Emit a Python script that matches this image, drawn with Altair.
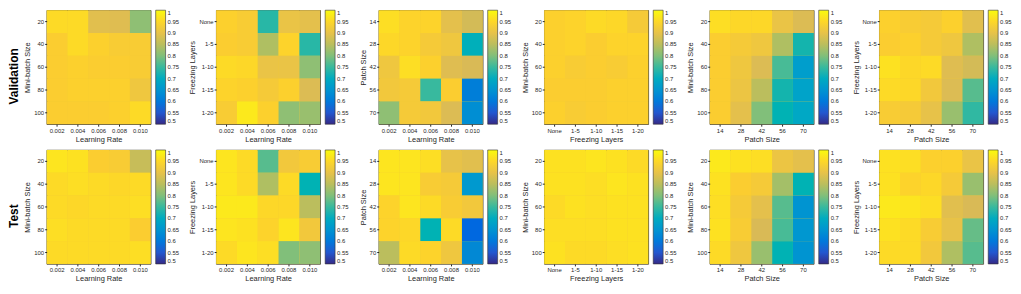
import altair as alt
import pandas as pd

# ---- categories ----
lr = ["0.002", "0.004", "0.006", "0.008", "0.010"]
mb = ["20", "40", "60", "80", "100"]
fl = ["None", "1-5", "1-10", "1-15", "1-20"]
ps = ["14", "28", "42", "56", "70"]

# ---- Validation values (rows = y categories top->bottom, cols = x categories) ----
val_mb_lr = [[0.955, 0.955, 0.89, 0.885, 0.81],
             [0.935, 0.955, 0.94, 0.93, 0.93],
             [0.935, 0.94, 0.935, 0.935, 0.93],
             [0.935, 0.94, 0.94, 0.94, 0.915],
             [0.935, 0.935, 0.935, 0.94, 0.955]]
val_fl_lr = [[0.94, 0.93, 0.74, 0.905, 0.895],
             [0.935, 0.93, 0.84, 0.945, 0.74],
             [0.955, 0.95, 0.905, 0.905, 0.81],
             [0.945, 0.94, 0.925, 0.94, 0.88],
             [0.93, 0.975, 0.94, 0.81, 0.82]]
val_ps_lr = [[0.96, 0.945, 0.945, 0.895, 0.87],
             [0.95, 0.945, 0.925, 0.915, 0.71],
             [0.915, 0.96, 0.94, 0.885, 0.875],
             [0.92, 0.925, 0.75, 0.935, 0.61],
             [0.81, 0.925, 0.92, 0.88, 0.64]]
val_mb_fl = [[0.94, 0.945, 0.955, 0.95, 0.925],
             [0.94, 0.945, 0.935, 0.945, 0.945],
             [0.94, 0.93, 0.935, 0.93, 0.94],
             [0.935, 0.935, 0.935, 0.94, 0.94],
             [0.94, 0.93, 0.935, 0.94, 0.94]]
val_mb_ps = [[0.96, 0.95, 0.95, 0.905, 0.88],
             [0.935, 0.925, 0.915, 0.84, 0.73],
             [0.935, 0.915, 0.88, 0.76, 0.67],
             [0.935, 0.91, 0.85, 0.73, 0.68],
             [0.935, 0.895, 0.80, 0.72, 0.69]]
val_fl_ps = [[0.94, 0.93, 0.925, 0.94, 0.89],
             [0.935, 0.94, 0.925, 0.915, 0.84],
             [0.965, 0.95, 0.955, 0.885, 0.87],
             [0.955, 0.95, 0.92, 0.88, 0.77],
             [0.93, 0.925, 0.90, 0.82, 0.745]]

# ---- Test values ----
tst_mb_lr = [[0.97, 0.965, 0.935, 0.93, 0.86],
             [0.955, 0.96, 0.955, 0.95, 0.955],
             [0.955, 0.95, 0.955, 0.955, 0.96],
             [0.96, 0.955, 0.955, 0.955, 0.935],
             [0.955, 0.955, 0.955, 0.955, 0.96]]
tst_fl_lr = [[0.97, 0.955, 0.77, 0.92, 0.93],
             [0.97, 0.955, 0.84, 0.955, 0.72],
             [0.975, 0.975, 0.95, 0.95, 0.85],
             [0.97, 0.965, 0.945, 0.97, 0.92],
             [0.955, 0.97, 0.96, 0.80, 0.81]]
tst_ps_lr = [[0.97, 0.97, 0.96, 0.90, 0.89],
             [0.97, 0.97, 0.93, 0.925, 0.66],
             [0.945, 0.97, 0.955, 0.93, 0.92],
             [0.945, 0.95, 0.72, 0.955, 0.57],
             [0.85, 0.955, 0.945, 0.915, 0.63]]
tst_mb_fl = [[0.965, 0.965, 0.97, 0.965, 0.955],
             [0.965, 0.965, 0.96, 0.97, 0.965],
             [0.955, 0.965, 0.96, 0.965, 0.965],
             [0.96, 0.96, 0.96, 0.965, 0.965],
             [0.965, 0.955, 0.955, 0.96, 0.965]]
tst_mb_ps = [[0.975, 0.965, 0.96, 0.91, 0.895],
             [0.965, 0.935, 0.925, 0.83, 0.72],
             [0.96, 0.925, 0.895, 0.77, 0.65],
             [0.965, 0.93, 0.875, 0.76, 0.655],
             [0.955, 0.915, 0.82, 0.72, 0.65]]
tst_fl_ps = [[0.965, 0.96, 0.94, 0.94, 0.905],
             [0.965, 0.945, 0.95, 0.925, 0.82],
             [0.975, 0.97, 0.96, 0.89, 0.875],
             [0.965, 0.955, 0.93, 0.90, 0.78],
             [0.955, 0.955, 0.92, 0.84, 0.77]]

cbar_ticks = [0.5, 0.55, 0.6, 0.65, 0.7, 0.75, 0.8, 0.85, 0.9, 0.95, 1.0]
parula = ["#352A87", "#0363E1", "#1485D4", "#06A7C6", "#38B99E",
          "#92BF73", "#D9BA56", "#FCCE2E", "#F9FB0E"]

W, H = 105, 115
FONT = "Liberation Sans"


def panel(xcats, ycats, vals, xtitle, ytitle):
    rows = []
    for i, yc in enumerate(ycats):
        for j, xc in enumerate(xcats):
            rows.append({"x": xc, "y": yc, "v": vals[i][j]})
    df = pd.DataFrame(rows)
    return alt.Chart(df).mark_rect(strokeWidth=0).encode(
        x=alt.X("x:N", sort=xcats, title=xtitle,
                scale=alt.Scale(paddingInner=0, paddingOuter=0),
                axis=alt.Axis(labelAngle=0)),
        y=alt.Y("y:N", sort=ycats, title=ytitle,
                scale=alt.Scale(paddingInner=0, paddingOuter=0)),
        color=alt.Color("v:Q",
                        scale=alt.Scale(domain=[0.5, 1.0], range=parula, clamp=True),
                        legend=alt.Legend(values=cbar_ticks, format=".2~f", title=None)),
    ).properties(width=W, height=H)


def row(label, a, b, c, d, e, f):
    charts = [
        panel(lr, mb, a, "Learning Rate", "Mini-batch Size"),
        panel(lr, fl, b, "Learning Rate", "Freezing Layers"),
        panel(lr, ps, c, "Learning Rate", "Patch Size"),
        panel(fl, mb, d, "Freezing Layers", "Mini-batch Size"),
        panel(ps, mb, e, "Patch Size", "Mini-batch Size"),
        panel(ps, fl, f, "Patch Size", "Freezing Layers"),
    ]
    return alt.hconcat(*charts, spacing=8).resolve_scale(color="independent").properties(
        title=alt.TitleParams(label, orient="left", anchor="middle", fontSize=12,
                              fontWeight="bold", font=FONT, offset=2, color="#000")
    )


chart = alt.vconcat(
    row("Validation", val_mb_lr, val_fl_lr, val_ps_lr, val_mb_fl, val_mb_ps, val_fl_ps),
    row("Test", tst_mb_lr, tst_fl_lr, tst_ps_lr, tst_mb_fl, tst_mb_ps, tst_fl_ps),
    spacing=6,
).resolve_scale(color="independent").properties(
    padding={"left": 0, "top": 0, "right": 0, "bottom": 0}
).configure_view(
    stroke="#333333", strokeWidth=0.8, fill="#F2CB38"
).configure_axis(
    labelFont=FONT, titleFont=FONT, labelFontSize=6, titleFontSize=7.5,
    titleFontWeight="normal", labelColor="#262626", titleColor="#262626",
    tickSize=2, tickColor="#262626", domain=False, grid=False,
    labelPadding=1, titlePadding=2
).configure_legend(
    gradientLength=H, gradientThickness=10, labelFont=FONT, labelFontSize=6,
    labelColor="#262626", offset=5, padding=0, gradientStrokeColor="#333333",
    gradientStrokeWidth=0.6, labelOffset=2, labelOverlap=False
)

chart.save("out.html", embed_options={"renderer": "svg", "actions": False})
